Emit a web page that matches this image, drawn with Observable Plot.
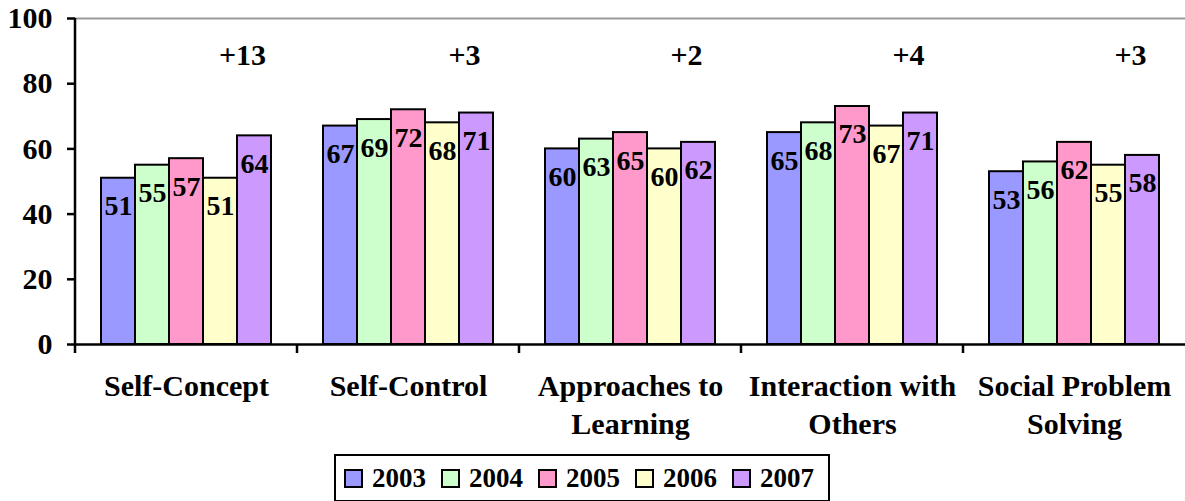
<!DOCTYPE html>
<html><head><meta charset="utf-8">
<script src="https://cdn.jsdelivr.net/npm/d3@7"></script>
<script src="https://cdn.jsdelivr.net/npm/@observablehq/plot@0.6"></script>
<style>
body{margin:0;background:#fff;width:1185px;height:501px;overflow:hidden;position:relative;font-family:"Liberation Serif","Times New Roman",serif;font-weight:bold}
#chart svg{display:block}
#legend{position:absolute;left:334px;top:454px;width:496px;height:48px;border:2px solid #000;box-sizing:border-box;display:flex;align-items:center;padding-left:8px}
.item{display:flex;align-items:center;margin-right:15px;font-size:27px;line-height:1}
.sw{width:19px;height:19px;border:2px solid #000;box-sizing:border-box;margin-right:9px}
</style></head>
<body>
<div id="chart"></div>
<div id="legend"></div>
<script>
const categories = ["Self-Concept","Self-Control","Approaches to\nLearning","Interaction with\nOthers","Social Problem\nSolving"];
const years = ["2003","2004","2005","2006","2007"];
const colors = ["#9999ff","#ccffcc","#ff99cc","#ffffcc","#cc99ff"];
const v2003 = [51,67,60,65,53];
const v2004 = [55,69,63,68,56];
const v2005 = [57,72,65,73,62];
const v2006 = [51,68,60,67,55];
const v2007 = [64,71,62,71,58];
const gains = ["+13","+3","+2","+4","+3"];
const yTicks = [0,20,40,60,80,100];

const series = [v2003,v2004,v2005,v2006,v2007];
const rows = [];
categories.forEach((c,i)=>years.forEach((yr,j)=>rows.push({cat:c,year:yr,value:series[j][i]})));
const gainRows = categories.map((c,i)=>({cat:c,year:years[years.length-1],gain:gains[i]}));

const plot = Plot.plot({
  width:1185, height:445, marginLeft:75, marginRight:0, marginTop:18, marginBottom:101,
  style:{fontFamily:'"Liberation Serif","Times New Roman",serif', fontWeight:"bold", background:"white", overflow:"visible"},
  fx:{domain:categories, padding:0, label:null},
  x:{domain:years, paddingInner:0, paddingOuter:0.72, axis:null},
  y:{domain:[0,100], label:null},
  color:{domain:years, range:colors},
  marks:[
    Plot.ruleY([100],{stroke:"#999",strokeWidth:2}),
    Plot.barY(rows,{fx:"cat",x:"year",y:"value",fill:"year",stroke:"black",strokeWidth:2,inset:0}),
    Plot.text(rows,{fx:"cat",x:"year",y:"value",text:d=>String(d.value),dy:28,fontSize:28,fontWeight:"bold",fill:"black"}),
    Plot.text(gainRows,{fx:"cat",x:"year",text:"gain",frameAnchor:"top",dy:25,dx:-12,fontSize:30,fontWeight:"bold",fill:"black"}),
    Plot.ruleY([0],{stroke:"black",strokeWidth:2.5}),
    Plot.axisY({ticks:yTicks, tickSize:8, tickPadding:15, fontSize:30, fontWeight:"bold", label:null, strokeWidth:2.5}),
    Plot.axisFx({anchor:"bottom", tickSize:0, tickPadding:24, fontSize:30, fontWeight:"bold", lineHeight:1.27, label:null})
  ]
});
document.getElementById("chart").appendChild(plot);

const fxS = plot.scale("fx"), yS = plot.scale("y");
const g = d3.select(plot).append("g").attr("stroke","black").attr("stroke-width",2.5);
const x0 = fxS.apply(categories[0]);
g.append("line").attr("x1",x0).attr("x2",x0).attr("y1",yS.apply(0)).attr("y2",yS.apply(100));
categories.forEach(c=>{
  const x = fxS.apply(c);
  g.append("line").attr("x1",x).attr("x2",x).attr("y1",yS.apply(0)).attr("y2",yS.apply(0)+9);
});

const legend = d3.select("#legend");
years.forEach((yr,i)=>{
  const it = legend.append("div").attr("class","item");
  it.append("div").attr("class","sw").style("background",colors[i]);
  it.append("span").text(yr);
});
</script>
</body></html>
